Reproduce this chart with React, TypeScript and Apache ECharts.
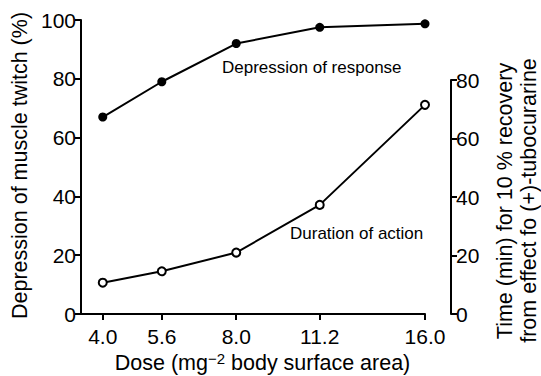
import React, { useEffect, useRef } from "react";
import * as echarts from "echarts";

const doses = [4.0, 5.6, 8.0, 11.2, 16.0];
const depressionOfResponse = [67, 79, 92, 97.5, 98.7];
const durationOfAction = [10.7, 14.6, 21, 37.3, 71.5];
const xAxisName = ["Dose (mg", "−2", " body surface area)"];
const leftAxisName = "Depression of muscle twitch (%)";
const rightAxisName = ["Time (min) for 10 % recovery", "from effect fo (+)-tubocurarine"];
const seriesLabels = ["Depression of response", "Duration of action"];

const FONT = "'Liberation Sans', Arial, Helvetica, sans-serif";
const toAxis = (d: number) => Math.sqrt(d);
const fromAxis = (v: number) => v * v;
const xMin = 1.865;
const xMax = 4;

export default function App() {
  const ref = useRef<HTMLDivElement>(null);
  useEffect(() => {
    if (!ref.current) return;
    const chart = echarts.init(ref.current, undefined, { renderer: "svg" });
    const axisLine = { show: true, lineStyle: { color: "#000", width: 2 } };
    const axisTick = { show: true, length: 6, lineStyle: { color: "#000", width: 2 } };
    const label = { color: "#000", fontSize: 21, fontFamily: FONT };
    const tickVals = doses.map(toAxis);
    const titleStyle = {
      fontSize: 21.5,
      fontFamily: FONT,
      fill: "#000",
      align: "center",
      verticalAlign: "middle",
    };
    chart.setOption({
      animation: false,
      backgroundColor: "#fff",
      grid: [
        { left: 81, right: 116, top: 20, bottom: 62 },
        { left: 81, right: 116, top: 80, bottom: 62 },
      ],
      xAxis: [
        {
          type: "value",
          gridIndex: 0,
          min: xMin,
          max: xMax,
          axisLine,
          axisTick: { ...axisTick, customValues: tickVals },
          axisLabel: {
            ...label,
            margin: 12,
            customValues: tickVals,
            formatter: (v: number) => fromAxis(v).toFixed(1),
          },
          splitLine: { show: false },
        },
        { type: "value", gridIndex: 1, min: xMin, max: xMax, show: false },
      ],
      yAxis: [
        {
          type: "value",
          gridIndex: 0,
          min: 0,
          max: 100,
          interval: 20,
          axisLine,
          axisTick,
          axisLabel: { ...label, margin: 5 },
          splitLine: { show: false },
        },
        {
          type: "value",
          gridIndex: 1,
          position: "right",
          offset: 26,
          min: 0,
          max: 80,
          interval: 20,
          axisLine,
          axisTick,
          axisLabel: { ...label, margin: 5 },
          splitLine: { show: false },
        },
      ],
      series: [
        {
          type: "line",
          xAxisIndex: 0,
          yAxisIndex: 0,
          data: doses.map((d, i) => [toAxis(d), depressionOfResponse[i]]),
          symbol: "circle",
          symbolSize: 9,
          itemStyle: { color: "#000" },
          lineStyle: { color: "#000", width: 2 },
        },
        {
          type: "line",
          xAxisIndex: 1,
          yAxisIndex: 1,
          data: doses.map((d, i) => [toAxis(d), durationOfAction[i]]),
          symbol: "circle",
          symbolSize: 8,
          itemStyle: { color: "#fff", borderColor: "#000", borderWidth: 2 },
          lineStyle: { color: "#000", width: 2 },
        },
      ],
      graphic: [
        {
          type: "text",
          x: 262.5,
          y: 363,
          style: {
            text: `{a|${xAxisName[0]}}{s|${xAxisName[1]}}{a|${xAxisName[2]}}`,
            align: "center",
            verticalAlign: "middle",
            rich: {
              a: { fontSize: 21.5, fontFamily: FONT, fill: "#000", lineHeight: 24 },
              s: { fontSize: 15, fontFamily: FONT, fill: "#000", verticalAlign: "top", lineHeight: 15 },
            },
          },
        },
        {
          type: "text",
          x: 20,
          y: 165.5,
          rotation: Math.PI / 2,
          style: { ...titleStyle, text: leftAxisName },
        },
        {
          type: "text",
          x: 505,
          y: 201,
          rotation: Math.PI / 2,
          style: { ...titleStyle, text: rightAxisName[0] },
        },
        {
          type: "text",
          x: 529,
          y: 200.5,
          rotation: Math.PI / 2,
          style: { ...titleStyle, text: rightAxisName[1] },
        },
        {
          type: "text",
          x: 222,
          y: 67,
          style: {
            text: seriesLabels[0],
            fontSize: 17,
            fontFamily: FONT,
            fill: "#000",
            align: "left",
            verticalAlign: "middle",
          },
        },
        {
          type: "text",
          x: 290,
          y: 233,
          style: {
            text: seriesLabels[1],
            fontSize: 17,
            fontFamily: FONT,
            fill: "#000",
            align: "left",
            verticalAlign: "middle",
          },
        },
      ],
    });
    return () => chart.dispose();
  }, []);
  return <div ref={ref} style={{ width: 541, height: 376, position: "fixed", left: 0, top: 0 }} />;
}
